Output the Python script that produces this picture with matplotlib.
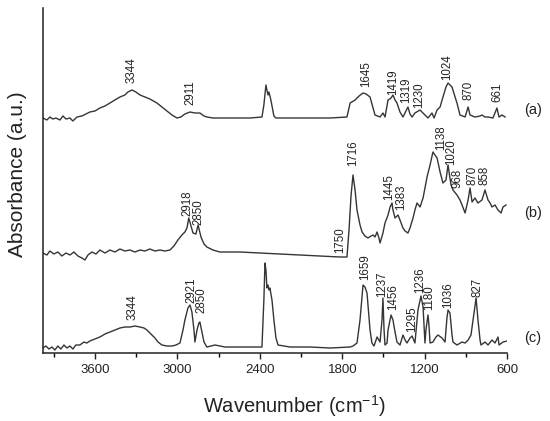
import matplotlib
matplotlib.use("Agg")
import matplotlib.pyplot as plt

plt.rcParams['font.family'] = ['Liberation Sans', 'DejaVu Sans']
plt.rcParams['mathtext.fontset'] = 'custom'
plt.rcParams['mathtext.rm'] = 'Liberation Sans'

# spectrum (a)
wn_a = [3980, 3951, 3929, 3907, 3885, 3856, 3834, 3812, 3783, 3762,
        3732, 3696, 3667, 3638, 3601, 3565, 3528, 3492, 3456, 3419,
        3383, 3361, 3332, 3303, 3273, 3237, 3201, 3150, 3113, 3077,
        3040, 3004, 2975, 2946, 2909, 2873, 2837, 2807, 2786, 2742,
        2618, 2472, 2385, 2371, 2356, 2349, 2341, 2334, 2320, 2298,
        2283, 2108, 1890, 1766, 1743, 1707, 1678, 1649, 1627, 1598,
        1576, 1562, 1525, 1504, 1489, 1467, 1445, 1431, 1416, 1402,
        1380, 1358, 1322, 1307, 1292, 1271, 1234, 1198, 1176, 1147,
        1132, 1110, 1088, 1067, 1045, 1030, 1016, 1001, 979, 965,
        943, 906, 884, 870, 834, 797, 783, 761, 739, 703,
        674, 659, 637, 615]
abs_a = [2.35, 2.33, 2.36, 2.34, 2.35, 2.33, 2.37, 2.34, 2.35, 2.32,
         2.36, 2.37, 2.39, 2.41, 2.42, 2.45, 2.47, 2.50, 2.53, 2.56,
         2.58, 2.61, 2.63, 2.61, 2.58, 2.56, 2.54, 2.50, 2.46, 2.42,
         2.38, 2.35, 2.36, 2.39, 2.41, 2.40, 2.40, 2.37, 2.36, 2.35,
         2.35, 2.35, 2.36, 2.48, 2.68, 2.63, 2.58, 2.61, 2.53, 2.37,
         2.35, 2.35, 2.35, 2.36, 2.50, 2.53, 2.57, 2.60, 2.59, 2.56,
         2.45, 2.38, 2.36, 2.40, 2.36, 2.53, 2.55, 2.58, 2.53, 2.50,
         2.41, 2.36, 2.46, 2.39, 2.36, 2.40, 2.43, 2.38, 2.35, 2.40,
         2.35, 2.43, 2.46, 2.56, 2.66, 2.70, 2.68, 2.66, 2.56, 2.50,
         2.38, 2.36, 2.46, 2.38, 2.36, 2.37, 2.38, 2.36, 2.36, 2.35,
         2.45, 2.36, 2.38, 2.36]

# spectrum (b)
wn_b = [3980, 3951, 3929, 3900, 3871, 3842, 3812, 3783, 3754, 3725,
        3696, 3674, 3652, 3623, 3594, 3565, 3528, 3492, 3456, 3419,
        3383, 3346, 3310, 3273, 3237, 3201, 3164, 3128, 3091, 3055,
        3026, 2997, 2968, 2946, 2931, 2918, 2887, 2866, 2850, 2829,
        2807, 2786, 2742, 2691, 2545, 2400, 2254, 2108, 1963, 1817,
        1766, 1751, 1736, 1722, 1707, 1693, 1671, 1656, 1635, 1613,
        1591, 1576, 1562, 1547, 1533, 1525, 1504, 1489, 1467, 1452,
        1438, 1431, 1416, 1394, 1380, 1358, 1343, 1322, 1307, 1285,
        1271, 1256, 1234, 1212, 1198, 1183, 1161, 1140, 1125, 1110,
        1088, 1067, 1045, 1030, 1016, 1008, 994, 965, 943, 928,
        906, 884, 870, 855, 834, 812, 783, 761, 739, 724,
        710, 688, 666, 644, 630, 608]
abs_b = [1.00, 0.98, 1.02, 0.99, 1.01, 0.97, 1.00, 0.98, 1.01, 0.97,
         0.95, 0.93, 0.98, 1.01, 0.99, 1.03, 1.00, 1.03, 1.01, 1.04,
         1.02, 1.03, 1.01, 1.03, 1.02, 1.04, 1.02, 1.03, 1.02, 1.03,
         1.07, 1.13, 1.18, 1.21, 1.25, 1.35, 1.20, 1.19, 1.28, 1.16,
         1.09, 1.06, 1.03, 1.01, 1.01, 1.00, 0.99, 0.98, 0.97, 0.96,
         0.96, 1.23, 1.58, 1.78, 1.63, 1.43, 1.28, 1.21, 1.17, 1.15,
         1.17, 1.18, 1.16, 1.21, 1.15, 1.10, 1.20, 1.30, 1.38, 1.46,
         1.50, 1.43, 1.35, 1.38, 1.33, 1.25, 1.22, 1.20, 1.25, 1.35,
         1.43, 1.50, 1.46, 1.55, 1.65, 1.76, 1.88, 2.01, 1.98, 1.95,
         1.81, 1.70, 1.73, 1.88, 1.75, 1.68, 1.63, 1.58, 1.53, 1.48,
         1.40, 1.53, 1.65, 1.51, 1.55, 1.50, 1.53, 1.63, 1.53, 1.50,
         1.46, 1.48, 1.43, 1.40, 1.46, 1.48]

# spectrum (c)
wn_c = [3980, 3958, 3936, 3914, 3893, 3871, 3849, 3827, 3805, 3783,
        3762, 3740, 3711, 3681, 3660, 3638, 3601, 3565, 3528, 3492,
        3456, 3419, 3383, 3346, 3310, 3273, 3244, 3223, 3193, 3164,
        3142, 3113, 3077, 3040, 3011, 2982, 2960, 2946, 2924, 2909,
        2895, 2880, 2873, 2858, 2844, 2837, 2822, 2807, 2786, 2756,
        2727, 2691, 2654, 2545, 2385, 2371, 2363, 2356, 2349, 2341,
        2334, 2327, 2312, 2298, 2283, 2268, 2181, 2035, 1890, 1743,
        1722, 1693, 1671, 1649, 1635, 1620, 1598, 1584, 1569, 1547,
        1525, 1511, 1504, 1496, 1489, 1474, 1467, 1445, 1431, 1416,
        1402, 1380, 1358, 1343, 1329, 1307, 1292, 1271, 1249, 1227,
        1212, 1198, 1191, 1176, 1169, 1161, 1140, 1118, 1103, 1074,
        1052, 1038, 1030, 1016, 1001, 994, 965, 928, 906, 884,
        863, 848, 826, 812, 797, 790, 761, 739, 710, 688,
        666, 659, 630, 600]
abs_c = [0.05, 0.07, 0.04, 0.06, 0.03, 0.07, 0.04, 0.08, 0.05, 0.07,
         0.04, 0.08, 0.08, 0.11, 0.10, 0.12, 0.14, 0.16, 0.19, 0.21,
         0.23, 0.25, 0.26, 0.26, 0.27, 0.26, 0.25, 0.23, 0.19, 0.15,
         0.11, 0.08, 0.07, 0.07, 0.08, 0.10, 0.23, 0.33, 0.45, 0.48,
         0.41, 0.23, 0.11, 0.23, 0.30, 0.31, 0.21, 0.11, 0.06, 0.07,
         0.08, 0.07, 0.06, 0.06, 0.06, 0.53, 0.90, 0.83, 0.65, 0.68,
         0.63, 0.65, 0.53, 0.33, 0.15, 0.08, 0.06, 0.06, 0.05, 0.06,
         0.07, 0.10, 0.33, 0.68, 0.66, 0.60, 0.23, 0.10, 0.07, 0.16,
         0.11, 0.33, 0.55, 0.23, 0.08, 0.10, 0.23, 0.38, 0.33, 0.21,
         0.11, 0.08, 0.18, 0.13, 0.10, 0.15, 0.17, 0.10, 0.43, 0.57,
         0.46, 0.10, 0.23, 0.38, 0.28, 0.10, 0.11, 0.16, 0.18, 0.15,
         0.11, 0.35, 0.43, 0.40, 0.18, 0.11, 0.08, 0.11, 0.10, 0.13,
         0.18, 0.33, 0.55, 0.33, 0.13, 0.08, 0.11, 0.08, 0.13, 0.10,
         0.16, 0.08, 0.11, 0.12]

# peak labels: text, x, y (bottom of the text)
peaks_a = [("3344", 3332, 2.70), ("2911", 2909, 2.48), ("1645", 1627, 2.66),
           ("1419", 1431, 2.58), ("1319", 1335, 2.50), ("1230", 1238, 2.45),
           ("1024", 1038, 2.73), ("870", 884, 2.53), ("661", 674, 2.51)]
peaks_b = [("2918", 2924, 1.37), ("2850", 2844, 1.28), ("1750", 1817, 1.00),
           ("1716", 1722, 1.87), ("1445", 1462, 1.53), ("1383", 1370, 1.43),
           ("1138", 1078, 2.03), ("1020", 1004, 1.88), ("968", 958, 1.65),
           ("870", 855, 1.68), ("858", 761, 1.68)]
peaks_c = [("3344", 3325, 0.33), ("2921", 2902, 0.50), ("2850", 2822, 0.40),
           ("1659", 1635, 0.73), ("1237", 1511, 0.56), ("1456", 1431, 0.43),
           ("1295", 1292, 0.21), ("1236", 1234, 0.60), ("1180", 1169, 0.43),
           ("1036", 1030, 0.45), ("827", 819, 0.56)]

curve_names = ["(a)", "(b)", "(c)"]
curve_name_y = [2.43, 1.40, 0.15]

line_col = "#353535"

fig = plt.figure(figsize=(5.5, 4.21), dpi=100)
ax = fig.add_axes([0.078, 0.1615, 0.844, 0.8195])

for wn, ab in [(wn_a, abs_a), (wn_b, abs_b), (wn_c, abs_c)]:
    ax.plot(wn, ab, color=line_col, lw=1.0)

for peaks in [peaks_a, peaks_b, peaks_c]:
    for txt, x, y in peaks:
        ax.text(x, y, txt, rotation=90, ha="center", va="bottom",
                fontsize=8.3, color="#222222")

for name, y in zip(curve_names, curve_name_y):
    ax.text(411, y, name, ha="center", va="center", fontsize=10.5,
            color="#222222", clip_on=False)

ax.set_xlim(3980, 600)
ax.set_ylim(0, 3.45)
ax.set_xticks([3600, 3000, 2400, 1800, 1200, 600])
ax.set_xticks([3900, 3300, 2700, 2100, 1500, 900], minor=True)
ax.set_yticks([])
ax.tick_params(axis="x", which="major", length=4, width=1, labelsize=9.5,
               colors="#222222", pad=4)
ax.tick_params(axis="x", which="minor", length=3, width=1)
for side in ["top", "right"]:
    ax.spines[side].set_visible(False)
for side in ["left", "bottom"]:
    ax.spines[side].set_color("#222222")
    ax.spines[side].set_linewidth(1.1)

fig.text(0.535, 0.036, "Wavenumber (cm$^{-1}$)", ha="center", va="center",
         fontsize=14.5, color="#222222")
fig.text(0.031, 0.587, "Absorbance (a.u.)", rotation=90, ha="center",
         va="center", fontsize=15, color="#222222")

fig.savefig("out.png", dpi=100)
